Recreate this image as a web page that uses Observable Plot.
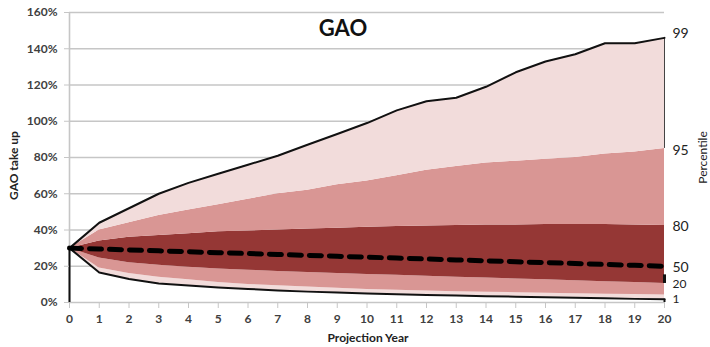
<!DOCTYPE html>
<html><head><meta charset="utf-8">
<script src="https://cdn.jsdelivr.net/npm/d3@7"></script>
<script src="https://cdn.jsdelivr.net/npm/@observablehq/plot@0.6"></script>
<style>
body{margin:0;background:#fff;}
#chart svg{display:block;}
</style></head><body><div id="chart"></div>
<script>
// Projection years
const years = [0,1,2,3,4,5,6,7,8,9,10,11,12,13,14,15,16,17,18,19,20];
// Percentile series (GAO take up, fraction)
const p99 = [0.30,0.44,0.52,0.60,0.66,0.71,0.76,0.81,0.87,0.93,0.99,1.06,1.11,1.13,1.19,1.27,1.33,1.37,1.43,1.43,1.46];
const p95 = [0.30,0.40,0.44,0.48,0.51,0.54,0.57,0.60,0.62,0.65,0.67,0.70,0.73,0.75,0.77,0.78,0.79,0.80,0.82,0.83,0.85];
const p80 = [0.30,0.34,0.36,0.37,0.38,0.39,0.395,0.40,0.405,0.41,0.415,0.42,0.422,0.425,0.427,0.428,0.43,0.43,0.43,0.428,0.425];
const p50 = [0.30,0.295,0.29,0.285,0.28,0.275,0.27,0.265,0.26,0.255,0.25,0.245,0.24,0.235,0.23,0.225,0.22,0.215,0.21,0.205,0.20];
const p20 = [0.30,0.245,0.22,0.205,0.195,0.185,0.178,0.171,0.165,0.16,0.155,0.15,0.145,0.14,0.135,0.13,0.125,0.12,0.115,0.11,0.105];
const p5  = [0.30,0.19,0.16,0.14,0.125,0.11,0.10,0.092,0.085,0.078,0.072,0.067,0.063,0.06,0.057,0.054,0.051,0.048,0.046,0.044,0.042];
const p1  = [0.30,0.165,0.13,0.105,0.094,0.083,0.075,0.066,0.06,0.055,0.05,0.046,0.042,0.038,0.035,0.032,0.029,0.026,0.023,0.02,0.018];
// Tick values and labels
const yTicks = [0,0.2,0.4,0.6,0.8,1.0,1.2,1.4,1.6];
const xTicks = years;
const percentileLabels = ["99","95","80","50","20","1"];
const title = "GAO";
const yLabel = "GAO take up";
const xLabel = "Projection Year";
const sideLabel = "Percentile";

const rows = years.map((t,i)=>({t, p1:p1[i], p5:p5[i], p20:p20[i], p50:p50[i], p80:p80[i], p95:p95[i], p99:p99[i]}));
const last = years.length-1;
const light = "#f2dcdb", mid = "#d99694", dark = "#953735", grey = "#c6c6c6";
const font = "Lato, 'Open Sans', sans-serif";
const endVals = [p99[last],p95[last],p80[last],p50[last],p20[last],p1[last]];
const labelDy = [-4,2,1,1,1,0];
const labelSize = [14,14,14,14,12,12];

const chart = Plot.plot({
  width:710, height:347,
  marginLeft:69, marginRight:46, marginTop:12, marginBottom:45,
  x:{domain:[0,20]},
  y:{domain:[0,1.6]},
  style:{fontFamily:font, fontSize:"12px", background:"#fff", color:"#000"},
  marks:[
    Plot.ruleY(yTicks.filter(d=>d>0), {stroke:grey, strokeWidth:1.6}),
    Plot.areaY(rows,{x:"t", y1:"p1", y2:"p5", fill:light}),
    Plot.areaY(rows,{x:"t", y1:"p5", y2:"p20", fill:mid}),
    Plot.areaY(rows,{x:"t", y1:"p20", y2:"p80", fill:dark}),
    Plot.areaY(rows,{x:"t", y1:"p80", y2:"p95", fill:mid}),
    Plot.areaY(rows,{x:"t", y1:"p95", y2:"p99", fill:light}),
    Plot.ruleY([0], {stroke:grey, strokeWidth:1.6}),
    Plot.ruleX([0], {y1:0, y2:1.6, stroke:grey, strokeWidth:1.6}),
    Plot.ruleX([0], {y1:0, y2:p1[0], stroke:"#111", strokeWidth:2}),
    Plot.ruleX([20], {y1:p95[last], y2:p99[last], stroke:"#444", strokeWidth:1}),
    Plot.ruleX([20], {y1:p20[last], y2:(p20[last]+p50[last])/2, stroke:"#111", strokeWidth:3}),
    Plot.ruleX([20], {y1:0, y2:p1[last], stroke:"#111", strokeWidth:2}),
    Plot.line(rows,{x:"t", y:"p99", stroke:"#111", strokeWidth:2}),
    Plot.line(rows,{x:"t", y:"p1", stroke:"#111", strokeWidth:2}),
    Plot.line(rows,{x:"t", y:"p50", stroke:"#000", strokeWidth:5, strokeDasharray:"12,8"}),
    Plot.axisY({ticks:yTicks, tickFormat:d=>Math.round(d*100)+"%", tickSize:5, tickPadding:7, stroke:grey, fill:"#404040", fontWeight:"bold", fontSize:12, label:null}),
    Plot.axisX({ticks:xTicks, tickFormat:d=>String(d), tickSize:6, tickPadding:6, stroke:grey, fill:"#404040", fontWeight:"bold", fontSize:12, label:null}),
    ...percentileLabels.map((lab,i)=>Plot.text([lab],{x:()=>20, y:()=>endVals[i], dx:8, dy:labelDy[i], textAnchor:"start", lineAnchor:"middle", fontSize:labelSize[i], fill:"#222"})),
    Plot.text([title],{frameAnchor:"top", dx:-24, dy:16, lineAnchor:"middle", textAnchor:"middle", fontSize:22, fontWeight:"bold", fill:"#111"}),
    Plot.text([yLabel],{frameAnchor:"left", dx:-55, dy:8, rotate:-90, textAnchor:"middle", lineAnchor:"middle", fontSize:12, fontWeight:"bold", fill:"#222"}),
    Plot.text([xLabel],{frameAnchor:"bottom", dx:1, dy:36, textAnchor:"middle", lineAnchor:"middle", fontSize:12, fontWeight:"bold", fill:"#222"}),
    Plot.text([sideLabel],{frameAnchor:"right", dx:39, rotate:-90, textAnchor:"middle", lineAnchor:"middle", fontSize:12, fill:"#222"})
  ]
});
document.getElementById("chart").appendChild(chart);
</script></body></html>
